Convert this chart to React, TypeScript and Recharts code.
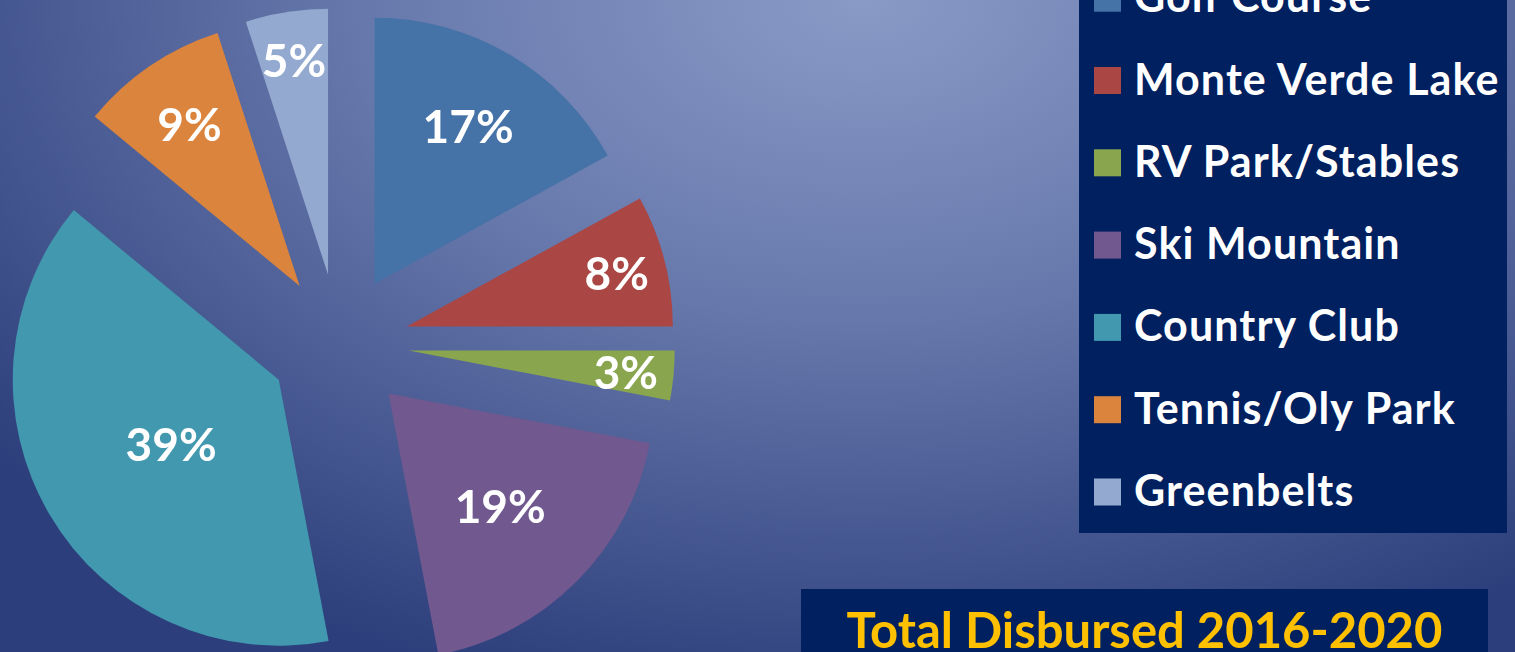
import React from 'react';
import { PieChart, Pie, Cell, Legend } from 'recharts';

const CATEGORIES = ['Golf Course', 'Monte Verde Lake', 'RV Park/Stables', 'Ski Mountain', 'Country Club', 'Tennis/Oly Park', 'Greenbelts'];
const SHARES = [17, 8, 3, 19, 39, 9, 5];
const COLORS = ['#4572A7', '#AA4643', '#89A54E', '#71588F', '#4198AF', '#DB843D', '#93A9CF'];
const TITLE = 'Total Disbursed 2016-2020';

// how far along the radius each percentage sits (Excel "best fit")
const LABEL_RADIUS = [0.69, 0.815, 0.82, 0.594, 0.47, 0.737, 0.82];

const W = 1515;
const H = 652;
const CX = 339;
const CY = 344;
const R = 266;
const EXPLODE = 70;
const FONT = 'Lato, "Open Sans", sans-serif';

const data = CATEGORIES.map((name, i) => ({ name, value: SHARES[i] }));

const total = SHARES.reduce((a, b) => a + b, 0);
let acc = 0;
const midAngles = SHARES.map((v) => {
    const m = 90 - (360 * (acc + v / 2)) / total;
    acc += v;
    return m;
});

const RAD = Math.PI / 180;

const makeLabel = (k: number) => (props: any) => {
    if (props.index !== k) return null;
    const r = props.outerRadius * LABEL_RADIUS[k];
    const x = props.cx + r * Math.cos(-props.midAngle * RAD);
    const y = props.cy + r * Math.sin(-props.midAngle * RAD);
    return (
        <text x={x} y={y} fill="#fff" textAnchor="middle" dominantBaseline="central" fontFamily={FONT} fontWeight={700} fontSize={46}>
            {`${SHARES[k]}%`}
        </text>
    );
};

const LegendBox = () => (
    <svg width={428} height={583} style={{ display: 'block' }}>
        <rect x={0} y={0} width={428} height={583} fill="#002060" />
        {CATEGORIES.map((c, i) => {
            const cy = 48.2 + i * 82.3;
            return (
                <g key={c}>
                    <rect x={15} y={cy - 13.5} width={27} height={27} fill={COLORS[i]} />
                    <text x={55} y={cy + 14} fill="#fff" fontFamily={FONT} fontWeight={700} fontSize={43} letterSpacing={1.1}>
                        {c}
                    </text>
                </g>
            );
        })}
    </svg>
);

export default function App() {
    return (
        <div
            style={{
                position: 'fixed',
                left: 0,
                top: 0,
                width: W,
                height: H,
                overflow: 'hidden',
                background: 'radial-gradient(ellipse 75% 110% at 57% 0%, #8a9ac7 0%, #6677ab 45%, #2c3e7b 100%)',
            }}
        >
            <PieChart width={W} height={H} margin={{ top: 0, right: 0, bottom: 0, left: 0 }}>
                {SHARES.map((_, k) => (
                    <Pie
                        key={k}
                        data={data}
                        dataKey="value"
                        nameKey="name"
                        cx={CX + EXPLODE * Math.cos(midAngles[k] * RAD)}
                        cy={CY - EXPLODE * Math.sin(midAngles[k] * RAD)}
                        outerRadius={R}
                        startAngle={90}
                        endAngle={-270}
                        stroke="none"
                        label={makeLabel(k)}
                        labelLine={false}
                        legendType="none"
                        isAnimationActive={false}
                    >
                        {data.map((d, i) => (
                            <Cell key={d.name} fill={i === k ? COLORS[i] : 'none'} />
                        ))}
                    </Pie>
                ))}
                <Legend
                    layout="vertical"
                    align="center"
                    verticalAlign="middle"
                    width={428}
                    height={583}
                    wrapperStyle={{ left: 1079, top: -50 }}
                    content={() => <LegendBox />}
                />
            </PieChart>
            <div style={{ position: 'absolute', left: 801, top: 589, width: 687, height: 80, background: '#002060' }}>
                <svg width={687} height={80} style={{ display: 'block' }}>
                    <text x={343.5} y={59} textAnchor="middle" fill="#FFC000" fontFamily={FONT} fontWeight={700} fontSize={49}>
                        {TITLE}
                    </text>
                </svg>
            </div>
        </div>
    );
}
